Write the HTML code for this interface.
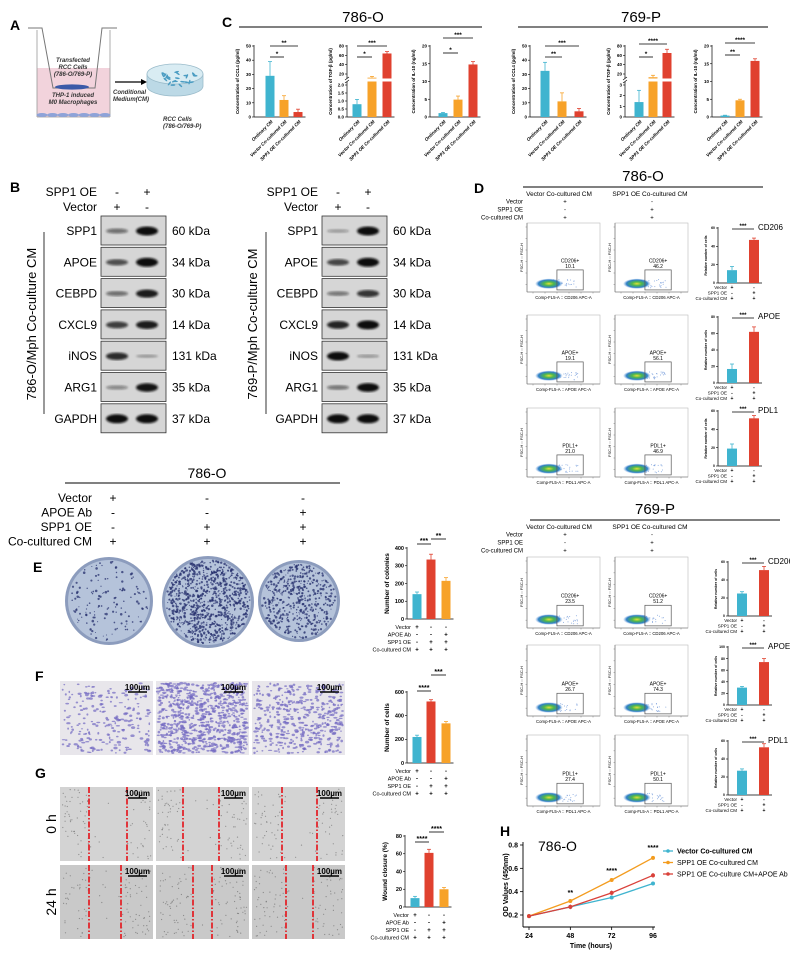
<!DOCTYPE html>
<html><head><meta charset="utf-8">
<style>body{margin:0;background:#fff}svg{display:block;font-family:"Liberation Sans",Arial,sans-serif}</style>
</head><body>
<svg id="fig" width="790" height="955" viewBox="0 0 790 955" xmlns="http://www.w3.org/2000/svg">
<defs>
<radialGradient id="blob"><stop offset="0" stop-color="#e2e03a"/><stop offset="0.35" stop-color="#4fb84a"/><stop offset="0.75" stop-color="#2f7fc8"/><stop offset="1" stop-color="#7aa8e0" stop-opacity="0"/></radialGradient>
<filter id="bl"><feGaussianBlur stdDeviation="1.1"/></filter>
</defs>
</svg>
<script>
// ---------- data ----------
const cCategories=['Ordinary CM','Vector Co-cultured CM','SPP1 OE Co-cultured CM'];
const ccl4_786=[29,12,3.5]; const ccl4_786_err=[10,3,2];
const tgf_786=[0.8,14,64]; const tgf_786_err=[0.3,2,4];
const il10_786=[1.1,4.9,14.8]; const il10_786_err=[0.2,1,0.8];
const ccl4_769=[32.5,11,4]; const ccl4_769_err=[6,6,2];
const tgf_769=[1.4,15,65]; const tgf_769_err=[1.1,3,8];
const il10_769=[0.4,4.7,15.8]; const il10_769_err=[0.1,0.3,0.6];
const colonies=[140,335,215]; const colonies_err=[12,30,18];
const cellsF=[220,520,335]; const cellsF_err=[15,15,15];
const wound=[10,61,20]; const wound_err=[2,4,2];
const d786_cd206=[14,47]; const d786_cd206_err=[4,2];
const d786_apoe=[17,62]; const d786_apoe_err=[6,6];
const d786_pdl1=[19,52]; const d786_pdl1_err=[5,3];
const d769_cd206=[25,51]; const d769_cd206_err=[2,4];
const d769_apoe=[30,74]; const d769_apoe_err=[2,6];
const d769_pdl1=[27,53]; const d769_pdl1_err=[2,4];
const gate786=['10.1','46.2','19.1','56.1','21.0','46.9'];
const gate769=['23.5','51.2','26.7','74.3','27.4','50.1'];
const hTimes=[24,48,72,96];
const hVector=[0.19,0.27,0.35,0.47];
const hOE=[0.19,0.32,0.50,0.69];
const hAb=[0.19,0.27,0.39,0.54];
const hTicksY=[0.2,0.4,0.6,0.8];
const blotProteins=['SPP1','APOE','CEBPD','CXCL9','iNOS','ARG1','GAPDH'];
const blotKda=['60 kDa','34 kDa','30 kDa','14 kDa','131 kDa','35 kDa','37 kDa'];
const blot786=[[0.35,1],[0.55,1],[0.35,0.85],[0.65,0.85],[0.75,0.05],[0.2,0.9],[1,1]];
const blot769=[[0.1,1],[0.6,1],[0.3,0.7],[0.8,1],[0.95,0.1],[0.3,0.95],[1,1]];

// ---------- helpers ----------
const NS='http://www.w3.org/2000/svg';
const root=document.getElementById('fig');
const BLUE='#3fb4cf',ORANGE='#f7a229',RED='#e0412f';
let seed=12345;
function rnd(){seed=(seed*16807)%2147483647;return (seed-1)/2147483646;}
function E(tag,a,p,name){
 const el=document.createElementNS(NS,tag);
 for(const k in a)el.setAttribute(k,a[k]);
 
 
 (p||root).appendChild(el);return el;}
function T(p,x,y,s,o,name){o=o||{};
 const el=E('text',{x:x,y:y,'font-size':o.fs||10,'text-anchor':o.a||'start',fill:o.c||'#000','font-weight':o.w||'normal','font-style':o.i?'italic':'normal'},p,name||'label');
 if(o.r!==undefined)el.setAttribute('transform','rotate('+o.r+' '+x+' '+y+')');
 el.textContent=s;return el;}
function G(name,p){return E('g',{},p,name);}
function L(p,x1,y1,x2,y2,c,w,name,extra){const a={x1:x1,y1:y1,x2:x2,y2:y2,stroke:c||'#000','stroke-width':w||0.7};if(extra)for(const k in extra)a[k]=extra[k];return E('line',a,p,name||'line');}
function sig(p,x1,x2,y,stars,fs){L(p,x1,y,x2,y,'#000',0.8,'significance-line');T(p,(x1+x2)/2,y-1.2,stars,{fs:fs||7,a:'middle',w:'bold'},'significance-stars');}
function bars(p,o){
 const sy=o.sy||(v=>o.y0-(v/o.max)*(o.y0-o.yTop));
 const fs=o.fs||4.5;
 L(p,o.ax,o.yTop-1,o.ax,o.y0,'#000',0.7,'y-axis');
 L(p,o.ax,o.y0,o.xs[o.xs.length-1]+o.w/2+3,o.y0,'#000',0.7,'x-axis');
 o.ticks.forEach((t,i)=>{L(p,o.ax-2,sy(t),o.ax,sy(t),'#000',0.6,'y-tick');
  T(p,o.ax-3,sy(t)+fs/3,o.tickLabels?o.tickLabels[i]:String(t),{fs:fs,a:'end',w:'bold'},'y-tick-label');});
 o.vals.forEach((v,i)=>{const x=o.xs[i];const yv=sy(v);
  E('rect',{x:x-o.w/2,y:yv,width:o.w,height:o.y0-yv,fill:o.cols[i]},p,'bar');
  const ye=sy(v+o.errs[i]);
  L(p,x,yv,x,ye,o.cols[i],0.8,'error-bar');L(p,x-2,ye,x+2,ye,o.cols[i],0.8,'error-cap');});
 if(o.ylabel)T(p,o.ax-(o.ylOff||13),(o.y0+o.yTop)/2,o.ylabel,{fs:o.ylfs||4.5,a:'middle',w:'bold',r:-90},'y-axis-title');
 return sy;}

// ---------- Panel A ----------
const gA=G('panel-a');
T(gA,10,30,'A',{fs:14,w:'bold'},'panel-label-a');
E('rect',{x:37,y:68,width:73,height:49,fill:'#f2d3dc'},gA,'medium-well');
L(gA,37,30,37,117,'#999',0.8,'well-wall-left');L(gA,110,30,110,117,'#999',0.8,'well-wall-right');
L(gA,37,117,110,117,'#999',0.8,'well-bottom');
for(let i=0;i<7;i++)E('ellipse',{cx:42+i*10.5,cy:115,rx:5.5,ry:2,fill:'#8ea3d8'},gA,'macrophage-cell');
E('path',{d:'M28 28 H42 L53 88 H95 L102 28 H117',fill:'none',stroke:'#777','stroke-width':1},gA,'transwell-insert');
E('ellipse',{cx:72,cy:87,rx:17,ry:2.6,fill:'#3b5aa8'},gA,'rcc-cells');
T(gA,73,62,'Transfected',{fs:6,a:'middle',w:'bold',i:true,c:'#333'});
T(gA,73,69,'RCC Cells',{fs:6,a:'middle',w:'bold',i:true,c:'#333'});
T(gA,73,76,'(786-O/769-P)',{fs:6,a:'middle',w:'bold',i:true,c:'#333'});
T(gA,73,97,'THP-1 induced',{fs:6,a:'middle',w:'bold',i:true,c:'#333'});
T(gA,73,104,'M0 Macrophages',{fs:6,a:'middle',w:'bold',i:true,c:'#333'});
L(gA,115,82,143,82,'#000',1.2,'arrow-shaft');
E('path',{d:'M147 82 L141 79 L141 85 Z',fill:'#000'},gA,'arrow-head');
T(gA,113,94,'Conditional',{fs:6,w:'bold',i:true,c:'#333'});
T(gA,113,101,'Medium(CM)',{fs:6,w:'bold',i:true,c:'#333'});
E('path',{d:'M147 74 V86 A28 10 0 0 0 203 86 V74',fill:'#bcd9e6',stroke:'#9bbccb','stroke-width':0.8},gA,'culture-dish-body');
E('ellipse',{cx:175,cy:74,rx:28,ry:10,fill:'#d9ecf3',stroke:'#9bbccb','stroke-width':0.8},gA,'culture-dish-top');
for(let i=0;i<24;i++){const a=rnd()*6.28,r=Math.sqrt(rnd());const cx=175+Math.cos(a)*r*22,cy=78+Math.sin(a)*r*8;E('ellipse',{cx:cx,cy:cy,rx:2.4,ry:0.8,fill:'#4b9cc2',transform:'rotate('+(rnd()*180)+' '+cx+' '+cy+')'},gA,'dish-cell');}
T(gA,163,121,'RCC Cells',{fs:6,w:'bold',i:true,c:'#333'});
T(gA,163,128,'(786-O/769-P)',{fs:6,w:'bold',i:true,c:'#333'});

// ---------- Panel C ----------
const gC=G('panel-c');
T(gC,222,27,'C',{fs:14,w:'bold'},'panel-label-c');
T(gC,363,22,'786-O',{fs:15,a:'middle'},'title-786o');L(gC,239,27,482,27,'#000',1,'title-rule');
T(gC,641,22,'769-P',{fs:15,a:'middle'},'title-769p');L(gC,518,27,768,27,'#000',1,'title-rule');
function tgfScale(bmax){return v=>v<=bmax?117-v/bmax*32:(v<=20?85-(v-bmax)/(20-bmax)*11:74-(v-20)/60*28);}
function cChart(ax,vals,errs,kind,ylabel,sigs,bmax,off,step){
 off=off||10;step=step||15;
 const g=G('chart-'+kind);
 const xs=[ax+off,ax+off+step,ax+off+2*step];
 let o={ax:ax,y0:117,yTop:46,vals:vals,errs:errs,xs:xs,w:9,cols:[BLUE,ORANGE,RED],ylabel:ylabel,fs:4.5,ylOff:15};
 if(kind==='ccl4'){o.max=50;o.ticks=[0,10,20,30,40,50];}
 if(kind==='il10'){o.max=20;o.ticks=[0,5,10,15,20];}
 if(kind==='tgf'){o.sy=tgfScale(bmax);
  if(bmax===2){o.ticks=[0,0.5,1,1.5,2,20,40,60,80];o.tickLabels=['0.0','0.5','1.0','1.5','2.0','20','40','60','80'];}
  else{o.ticks=[0,1,2,3,20,40,60,80];o.tickLabels=['0','1','2','3','20','40','60','80'];}}
 bars(g,o);
 if(kind==='tgf'){E('rect',{x:ax-3,y:78.5,width:55,height:3,fill:'#fff'},g,'axis-break');
  L(g,ax-2,80,ax+2,77,'#000',0.6,'break-mark');L(g,ax-2,83,ax+2,80,'#000',0.6,'break-mark');}
 sig(g,xs[0],xs[1],sigs[0][0],sigs[0][1],6.5);sig(g,xs[0],xs[2],sigs[1][0],sigs[1][1],6.5);
 cCategories.forEach((c,i)=>T(g,xs[i]+3,122,c,{fs:4.6,a:'end',w:'bold',i:true,r:-45},'x-tick-label'));
}
cChart(254,ccl4_786,ccl4_786_err,'ccl4','Concentration of CCL4 (pg/ml)',[[57,'*'],[46,'**']],0,16,14);
cChart(347,tgf_786,tgf_786_err,'tgf','Concentration of TGF-β (pg/ml)',[[57,'*'],[46,'***']],2);
cChart(430,il10_786,il10_786_err,'il10','Concentration of IL-10 (ng/ml)',[[53,'*'],[38,'***']],0,13,15);
cChart(530,ccl4_769,ccl4_769_err,'ccl4','Concentration of CCL4 (pg/ml)',[[57,'**'],[46,'***']],0,15,17);
cChart(625,tgf_769,tgf_769_err,'tgf','Concentration of TGF-β (pg/ml)',[[57,'*'],[44,'****']],3,14,14);
cChart(712,il10_769,il10_769_err,'il10','Concentration of IL-10 (ng/ml)',[[55,'**'],[43,'****']],0,13,15);

// ---------- Panel B ----------
const gB=G('panel-b');
T(gB,10,192,'B',{fs:14,w:'bold'},'panel-label-b');
function blot(bx,labR,kdaX,vert,vx,lx,ints){
 const g=G('western-blot-'+vert.slice(0,5));
 T(g,labR,196,'SPP1 OE',{fs:12,a:'end'},'header-spp1-oe');T(g,labR,211,'Vector',{fs:12,a:'end'},'header-vector');
 T(g,bx+16,196,'-',{fs:12,a:'middle'});T(g,bx+46,196,'+',{fs:12,a:'middle'});
 T(g,bx+16,211,'+',{fs:12,a:'middle'});T(g,bx+46,211,'-',{fs:12,a:'middle'});
 T(g,vx,324,vert,{fs:13,a:'middle',r:-90},'blot-condition-label');L(g,lx,232,lx,414,'#000',0.8,'bracket-line');
 blotProteins.forEach((pn,i)=>{const y=216+i*31.3;
  E('rect',{x:bx,y:y,width:65,height:29,fill:'#d6d6d6',stroke:'#333','stroke-width':0.8},g,'blot-strip');
  ints[i].forEach((v,j)=>{if(v>0.04)E('ellipse',{cx:bx+16+j*30,cy:y+15,rx:11,ry:1.5+3*v,fill:'#111','fill-opacity':Math.min(1,0.25+0.8*v),filter:'url(#bl)'},g,'band');});
  T(g,labR,y+19,pn,{fs:12,a:'end'},'protein-label');T(g,kdaX,y+19,blotKda[i],{fs:12},'kda-label');});
}
blot(101,97,172,'786-O/Mph Co-culture CM',36,44,blot786);
blot(322,318,393,'769-P/Mph Co-culture CM',257,266,blot769);

// ---------- Conditions + E/F/G images ----------
const gE=G('panel-e-f-g');
T(gE,207,478,'786-O',{fs:14,a:'middle'},'title-786o-efg');L(gE,65,483,340,483,'#000',1,'title-rule');
const condRows=['Vector','APOE Ab','SPP1 OE','Co-cultured CM'];
const condMarks=[['+','-','-'],['-','-','+'],['-','+','+'],['+','+','+']];
condRows.forEach((r,i)=>{T(gE,92,502+i*14.5,r,{fs:12,a:'end'},'condition-label');
 condMarks[i].forEach((m,j)=>T(gE,[113,207,303][j],502+i*14.5,m,{fs:12,a:'middle'},'condition-mark'));});
T(gE,33,572,'E',{fs:14,w:'bold'},'panel-label-e');
const dishes=[[109,601,44,140],[208,602,46,900],[299,601,41,480]];
dishes.forEach(d=>{const g=G('colony-plate');
 E('circle',{cx:d[0],cy:d[1],r:d[2],fill:'#8c9cbd'},g,'plate-rim');
 E('circle',{cx:d[0],cy:d[1],r:d[2]-3,fill:'#b5c3da'},g,'plate-inner');
 for(let k=0;k<d[3];k++){const a=rnd()*6.283,r=Math.sqrt(rnd())*(d[2]-4);
  E('circle',{cx:(d[0]+Math.cos(a)*r).toFixed(1),cy:(d[1]+Math.sin(a)*r).toFixed(1),r:(0.5+rnd()*0.8).toFixed(2),fill:'#27306e','fill-opacity':0.75},g,'colony');}});
T(gE,35,681,'F',{fs:14,w:'bold'},'panel-label-f');
const fImgX=[60,156,252];const fCount=[220,750,420];
function scalebar(g,x,y,w){T(g,x+w-3,y+9,'100µm',{fs:8,a:'end',w:'bold'},'scale-bar-label');L(g,x+w-25,y+11,x+w-6,y+11,'#000',1.6,'scale-bar');}
fImgX.forEach((x,i)=>{const g=G('invasion-image');
 E('rect',{x:x,y:681,width:93,height:74,fill:'#e8e6eb'},g,'image-bg');
 for(let k=0;k<fCount[i];k++){const cx=x+2+rnd()*89,cy=683+rnd()*70;
  E('ellipse',{cx:cx.toFixed(1),cy:cy.toFixed(1),rx:(0.8+rnd()*1.4).toFixed(2),ry:(0.6+rnd()*0.8).toFixed(2),fill:'#7268c2','fill-opacity':0.7},g,'stained-cell');}
 scalebar(g,x,681,93);});
T(gE,35,778,'G',{fs:14,w:'bold'},'panel-label-g');
T(gE,56,824,'0 h',{fs:14,a:'middle',r:-90},'row-label-0h');T(gE,56,902,'24 h',{fs:14,a:'middle',r:-90},'row-label-24h');
const gLines0=[[89,127],[183,219],[282,317]];const gLines24=[[89,121],[193,212],[286,313]];
[[787,gLines0,'#d3d3d3'],[865,gLines24,'#c9c9c9']].forEach(row=>{fImgX.forEach((x,i)=>{const g=G('wound-image');
 E('rect',{x:x,y:row[0],width:93,height:74,fill:row[2]},g,'image-bg');
 const ln=row[1][i];
 for(let k=0;k<140;k++){const cx=x+2+rnd()*89,cy=row[0]+2+rnd()*70;if(cx>ln[0]&&cx<ln[1]&&rnd()>0.15)continue;
  E('circle',{cx:cx.toFixed(1),cy:cy.toFixed(1),r:0.6,fill:'#555','fill-opacity':0.55},g,'cell-speck');}
 ln.forEach(lx=>L(g,lx,row[0],lx,row[0]+74,'#e3252b',1.8,'wound-edge-line',{'stroke-dasharray':'6,2,1.5,2'}));
 scalebar(g,x,row[0],93);});});

// E/F/G bar charts
function efgChart(ax,y0,yTop,max,ticks,vals,errs,ylabel,sigs){
 const g=G('bar-chart-'+ylabel.split(' ')[0].toLowerCase());
 const xs=[ax+10,ax+24,ax+39];
 bars(g,{ax:ax,y0:y0,yTop:yTop,max:max,ticks:ticks,vals:vals,errs:errs,xs:xs,w:9,cols:[BLUE,RED,ORANGE],ylabel:ylabel,fs:5.5,ylfs:6.5,ylOff:18});
 sig(g,xs[0],xs[1],sigs[0][0],sigs[0][1],7);sig(g,xs[1],xs[2],sigs[1][0],sigs[1][1],7);
 condRows.forEach((r,i)=>{T(g,ax+4,y0+10+i*7.5,r,{fs:5.5,a:'end'},'condition-label');
  condMarks[i].forEach((m,j)=>T(g,xs[j],y0+10+i*7.5,m,{fs:6,a:'middle',w:'bold'},'condition-mark'));});
}
efgChart(407,619,548,400,[0,100,200,300,400],colonies,colonies_err,'Number of  colonies',[[544,'***'],[539,'**']]);
efgChart(407,763,692,600,[0,200,400,600],cellsF,cellsF_err,'Number of cells',[[691,'****'],[675,'***']]);
efgChart(405,907,836,80,[0,20,40,60,80],wound,wound_err,'Wound closure (%)',[[842,'****'],[832,'****']]);

// ---------- Panel D ----------
const gD=G('panel-d');
T(gD,474,193,'D',{fs:14,w:'bold'},'panel-label-d');
function dBlock(title,ty,lineY,lx1,lx2,hy,rowTops,ph,gates,charts,ax,vals,errs,maxes){
 const g=G('flow-block-'+title);
 T(g,(lx1+lx2)/2,ty,title,{fs:15,a:'middle'},'section-title');L(g,lx1,lineY,lx2,lineY,'#000',1,'title-rule');
 T(g,559,hy,'Vector Co-cultured CM',{fs:6.5,a:'middle'},'column-header');T(g,650,hy,'SPP1 OE Co-cultured CM',{fs:6.5,a:'middle'},'column-header');
 [['Vector','+','-'],['SPP1 OE','-','+'],['Co-cultured CM','+','+']].forEach((r,i)=>{const y=hy+7.5+i*8;
  T(g,523,y,r[0],{fs:6,a:'end'},'condition-label');T(g,565,y,r[1],{fs:6,a:'middle'},'condition-mark');T(g,652,y,r[2],{fs:6,a:'middle'},'condition-mark');});
 const markers=['CD206','APOE','PDL1'];
 rowTops.forEach((top,ri)=>{[527,615].forEach((px,ci)=>{const fg=G('flow-plot');const w=73,h=ph;
  E('rect',{x:px,y:top,width:w,height:h,fill:'#fff',stroke:'#bbb','stroke-width':0.6},fg,'plot-frame');
  L(fg,px,top,px,top+h,'#666',0.6,'y-axis');L(fg,px,top+h,px+w,top+h,'#666',0.6,'x-axis');
  for(let k=0;k<6;k++){L(fg,px-1.5,top+4+k*h/6,px,top+4+k*h/6,'#666',0.4,'tick');L(fg,px+6+k*12,top+h,px+6+k*12,top+h+1.5,'#666',0.4,'tick');}
  T(fg,px-4,top+h/2,'FSC-H :: FSC-H',{fs:4,a:'middle',r:-90},'y-axis-title');
  T(fg,px+w/2,top+h+7,'Comp-FL5-A :: '+markers[ri]+' APC-A',{fs:4.3,a:'middle'},'x-axis-title');
  for(let k=0;k<25;k++)E('circle',{cx:(px+w*0.35+rnd()*w*0.35).toFixed(1),cy:(top+h*0.82+rnd()*h*0.12).toFixed(1),r:0.5,fill:'#7fa3dd'},fg,'event-dot');
  E('ellipse',{cx:px+w*0.3,cy:top+h*0.88,rx:w*0.19,ry:h*0.075,fill:'url(#blob)'},fg,'density-blob');
  E('rect',{x:px+w*0.41,y:top+h*0.68,width:w*0.36,height:h*0.29,fill:'none',stroke:'#555','stroke-width':0.7},fg,'gate');
  T(fg,px+w*0.59,top+h*0.57,markers[ri]+'+',{fs:5,a:'middle'},'gate-name');
  T(fg,px+w*0.59,top+h*0.65,gates[ri*2+ci],{fs:5,a:'middle'},'gate-percent');});
  const c=charts[ri];const bg=G('relative-cells-chart');const xs=[ax+14,ax+36];const mx=maxes[ri];
  const tk=[];for(let t=0;t<=mx;t+=20)tk.push(t);
  bars(bg,{ax:ax,y0:c[1],yTop:c[0],max:mx,ticks:tk,vals:vals[ri],errs:errs[ri],xs:xs,w:10,cols:[BLUE,RED],ylabel:'Relative number of cells',fs:3.5,ylfs:3.5,ylOff:11});
  sig(bg,xs[0],xs[1],c[0]+1,'***',6);T(bg,xs[1]+4,c[0]+2,markers[ri],{fs:8},'marker-label');
  [['Vector','+','-'],['SPP1 OE','-','+'],['Co-cultured CM','+','+']].forEach((r,i)=>{const y=c[1]+6+i*5.5;
   T(bg,ax+9,y,r[0],{fs:4.5,a:'end'},'condition-label');T(bg,xs[0],y,r[1],{fs:5,a:'middle',w:'bold'},'condition-mark');T(bg,xs[1],y,r[2],{fs:5,a:'middle',w:'bold'},'condition-mark');});
 });
}
dBlock('786-O',181,187,523,763,196,[223,315,408],69,gate786,[[228,283],[317,383],[411,466]],718,[d786_cd206,d786_apoe,d786_pdl1],[d786_cd206_err,d786_apoe_err,d786_pdl1_err],[60,80,60]);
dBlock('769-P',514,520,530,780,529,[557,645,735],71,gate769,[[562,616],[647,705],[741,795]],728,[d769_cd206,d769_apoe,d769_pdl1],[d769_cd206_err,d769_apoe_err,d769_pdl1_err],[60,100,60]);

// ---------- Panel H ----------
const gH=G('panel-h');
T(gH,500,836,'H',{fs:14,w:'bold'},'panel-label-h');
const hx=t=>529+(t-24)/72*124;const hy=v=>915-(v-0.2)/0.6*70;
L(gH,523,hy(0.8)-3,523,927,'#000',0.9,'y-axis');L(gH,523,927,655,927,'#000',0.9,'x-axis');
hTicksY.forEach(v=>{L(gH,520,hy(v),523,hy(v),'#000',0.8,'y-tick');T(gH,518,hy(v)+2.5,v.toFixed(1),{fs:7,a:'end',w:'bold'},'y-tick-label');});
hTimes.forEach(t=>{L(gH,hx(t),927,hx(t),930,'#000',0.8,'x-tick');T(gH,hx(t),938,String(t),{fs:7,a:'middle',w:'bold'},'x-tick-label');});
T(gH,591,948,'Time (hours)',{fs:7,a:'middle',w:'bold'},'x-axis-title');
T(gH,508,885,'OD Values (450nm)',{fs:7,a:'middle',w:'bold',r:-90},'y-axis-title');
T(gH,538,851,'786-O',{fs:14},'chart-title');
const hSeries=[['vector',hVector,BLUE,'Vector Co-cultured CM'],['spp1-oe',hOE,'#f39c1f','SPP1 OE Co-cultured CM'],['apoe-ab',hAb,'#d9413a','SPP1 OE Co-culture CM+APOE Ab']];
hSeries.forEach((s,si)=>{const g=G('series-'+s[0]);
 E('polyline',{points:s[1].map((v,i)=>hx(hTimes[i])+','+hy(v)).join(' '),fill:'none',stroke:s[2],'stroke-width':1.3},g,'series-line');
 s[1].forEach((v,i)=>{const e=i?0.012+si*0.004:0.008;L(g,hx(hTimes[i]),hy(v-e),hx(hTimes[i]),hy(v+e),s[2],0.8,'error-bar');
  E('circle',{cx:hx(hTimes[i]),cy:hy(v),r:2,fill:s[2]},g,'point');});
 const ly=851+si*11.5;L(g,663,ly,673,ly,s[2],1.3,'legend-line');E('circle',{cx:668,cy:ly,r:1.8,fill:s[2]},g,'legend-marker');
 T(g,677,ly+2.5,s[3],{fs:7,w:si===0?'bold':'normal'},'legend-entry');});
T(gH,hx(48),hy(hOE[1])-6,'**',{fs:7,a:'middle',w:'bold'},'significance-stars');
T(gH,hx(72),hy(hOE[2])-7,'****',{fs:7,a:'middle',w:'bold'},'significance-stars');
T(gH,hx(96),hy(hOE[3])-8,'****',{fs:7,a:'middle',w:'bold'},'significance-stars');
</script>
</body></html>
